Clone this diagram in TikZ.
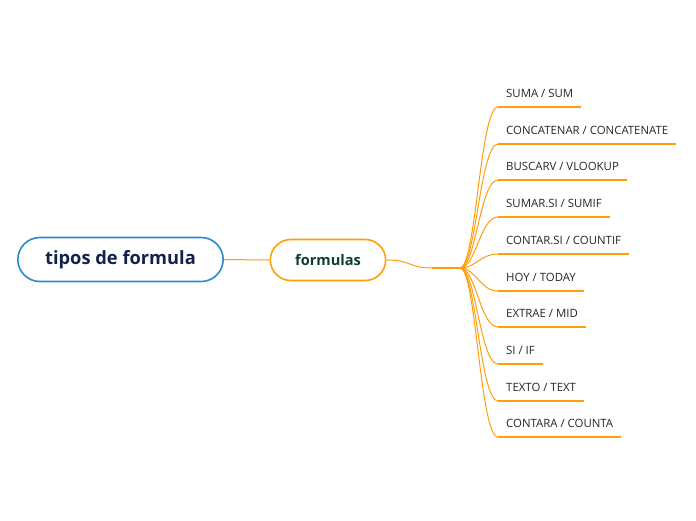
\documentclass[tikz,border=0pt]{standalone}
\usepackage{fontspec}
\setmainfont{Open Sans}
\usepackage{tikz}
\usetikzlibrary{arrows.meta,positioning,shapes.misc}
\definecolor{mmorange}{HTML}{FF9E0A}
\definecolor{mmblue}{HTML}{2C8ACB}
\definecolor{mmnavy}{HTML}{13224A}
\definecolor{mmgreen}{HTML}{0E3F2C}

\begin{document}
\begin{tikzpicture}[x=1pt,y=-1pt,
  rootbox/.style={rounded rectangle, draw=mmblue, line width=1.6pt, fill=white,
    minimum width=212pt, minimum height=44pt, font=\fontsize{18.3}{22}\selectfont\bfseries\color{mmnavy}},
  mainbox/.style={rounded rectangle, draw=mmorange, line width=1.6pt, fill=white,
    minimum width=122pt, minimum height=41pt, font=\fontsize{14.6}{17}\selectfont\bfseries\color{mmgreen}},
  leaf/.style={anchor=south west, inner xsep=8pt, inner ysep=6pt, text height=8pt, text depth=3pt,
    font=\fontsize{11.4}{13}\selectfont\color{black!85}},
  bar/.style={draw=mmorange, line width=2.6pt},
  link/.style={draw=mmorange, line width=1pt}]
\useasboundingbox (0,0) rectangle (696,520);
% central topic and main branch
\node[rootbox] (root) at (120.5,259.5) {tipos de formula};
\node[mainbox] (main) at (328,260) {formulas};
\draw[link] (root.east) -- (main.west);
\coordinate (hubin) at (432,268);
\coordinate (hub) at (460,268);
\draw[link] (main.east) .. controls (412,260) and (408,268) .. (hubin);
\draw[bar] (hubin) -- (hub);
% functions
\node[leaf] (sum) at (498,107) {SUMA / SUM};
\node[leaf] (concat) at (498,144) {CONCATENAR / CONCATENATE};
\node[leaf] (vlookup) at (498,180) {BUSCARV / VLOOKUP};
\node[leaf] (sumif) at (498,217) {SUMAR.SI / SUMIF};
\node[leaf] (countif) at (498,254) {CONTAR.SI / COUNTIF};
\node[leaf] (today) at (498,291) {HOY / TODAY};
\node[leaf] (mid) at (498,327) {EXTRAE / MID};
\node[leaf] (if) at (498,364) {SI / IF};
\node[leaf] (text) at (498,401) {TEXTO / TEXT};
\node[leaf] (counta) at (498,437) {CONTARA / COUNTA};
\foreach \f in {sum,concat,vlookup,sumif,countif,today,mid,if,text,counta}{
  \draw[bar] (\f.south west) -- (\f.south east);
  \draw[link] (hub) .. controls (476,268) and (480,0|-\f.south west) .. (\f.south west);
}
\end{tikzpicture}
\end{document}
